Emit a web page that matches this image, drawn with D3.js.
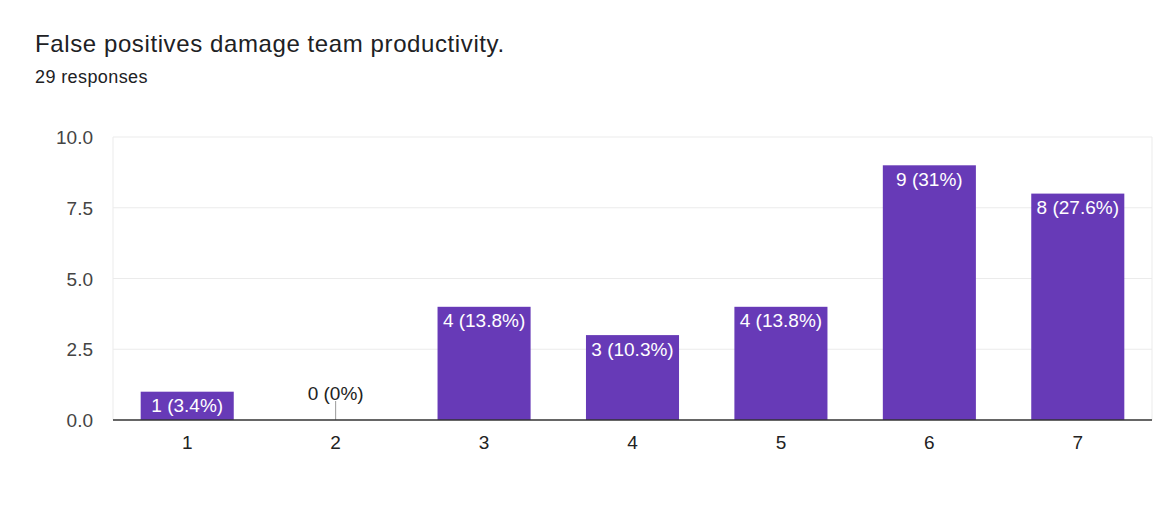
<!DOCTYPE html>
<html><head><meta charset="utf-8">
<script src="https://cdn.jsdelivr.net/npm/d3@7"></script>
<style>body{margin:0;background:#fff;font-family:"Liberation Sans",Arial,Helvetica,sans-serif;}</style>
</head><body><svg id="c" width="1161" height="525"></svg>
<script>
const categories = ["1","2","3","4","5","6","7"];
const counts = [1,0,4,3,4,9,8];
const percents = ["3.4%","0%","13.8%","10.3%","13.8%","31%","27.6%"];
const yTicks = [0,2.5,5,7.5,10];
const title = "False positives damage team productivity.";
const subtitle = "29 responses";

const svg = d3.select("#c").attr("font-family","'Liberation Sans',Arial,Helvetica,sans-serif");
const L=113,R=1152,T=137,B=420;
const x = d3.scaleBand().domain(categories).range([L,R]).paddingInner(0.373).paddingOuter(0.1865);
const y = d3.scaleLinear().domain([0,10]).range([B,T]);

svg.append("text").attr("x",35).attr("y",52).attr("font-size",24).attr("letter-spacing","0.6px").attr("fill","#202124").text(title);
svg.append("text").attr("x",35).attr("y",83).attr("font-size",18).attr("letter-spacing","0.4px").attr("fill","#202124").text(subtitle);

// grid
svg.selectAll(".g").data(yTicks.filter(d=>d>0)).join("line")
  .attr("x1",L).attr("x2",R).attr("y1",d=>y(d)).attr("y2",d=>y(d))
  .attr("stroke","#ebebeb").attr("stroke-width",1);
svg.append("line").attr("x1",L).attr("x2",L).attr("y1",T).attr("y2",B).attr("stroke","#ebebeb");
svg.append("line").attr("x1",R).attr("x2",R).attr("y1",T).attr("y2",B).attr("stroke","#ebebeb");

svg.selectAll(".yl").data(yTicks).join("text")
  .attr("x",93).attr("y",d=>y(d)+7).attr("text-anchor","end").attr("font-size",19).attr("fill","#444")
  .text(d=>d.toFixed(1));

const data = categories.map((c,i)=>({c,v:counts[i],p:percents[i]}));
svg.selectAll(".bar").data(data.filter(d=>d.v>0)).join("rect")
  .attr("x",d=>x(d.c)).attr("width",x.bandwidth()).attr("y",d=>y(d.v)).attr("height",d=>B-y(d.v))
  .attr("fill","#673ab7");

svg.selectAll(".lab").data(data).join("text")
  .attr("x",d=>x(d.c)+x.bandwidth()/2)
  .attr("y",d=>d.v>0 ? y(d.v)+20.5 : B-20)
  .attr("text-anchor","middle").attr("font-size",19)
  .attr("fill",d=>d.v>0?"#fff":"#222")
  .text(d=>`${d.v} (${d.p})`);

svg.selectAll(".zt").data(data.filter(d=>d.v===0)).join("line")
  .attr("x1",d=>x(d.c)+x.bandwidth()/2).attr("x2",d=>x(d.c)+x.bandwidth()/2)
  .attr("y1",B).attr("y2",B-19).attr("stroke","#999").attr("stroke-width",1);

svg.append("line").attr("x1",L).attr("x2",R).attr("y1",B).attr("y2",B).attr("stroke","#333").attr("stroke-width",1.5);

svg.selectAll(".xl").data(categories).join("text")
  .attr("x",d=>x(d)+x.bandwidth()/2).attr("y",449).attr("text-anchor","middle").attr("font-size",19).attr("fill","#222")
  .text(d=>d);
</script></body></html>
